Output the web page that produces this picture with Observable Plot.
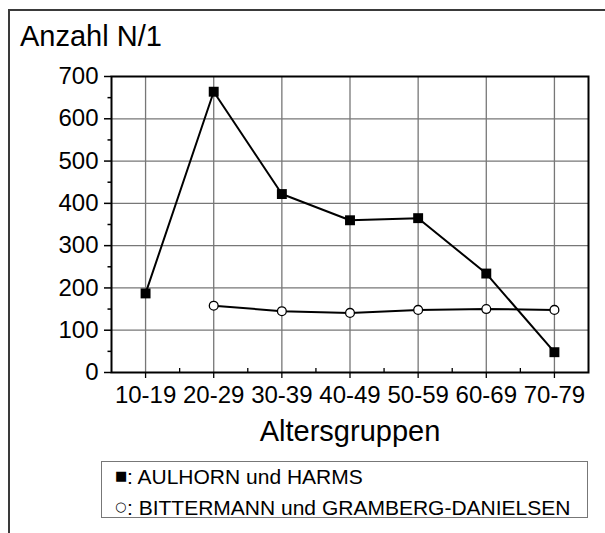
<!DOCTYPE html>
<html><head><meta charset="utf-8">
<script src="https://cdn.jsdelivr.net/npm/d3@7"></script>
<script src="https://cdn.jsdelivr.net/npm/@observablehq/plot@0.6"></script>
<style>
body{margin:0;background:#fff;font-family:"Liberation Sans",Arial,sans-serif;color:#000;}
#wrap{position:relative;width:605px;height:533px;overflow:hidden;}
#border{position:absolute;left:8px;top:9px;width:620px;height:560px;border-left:2px solid #3a3a3a;border-top:2px solid #3a3a3a;pointer-events:none;}
#title{box-sizing:border-box;height:55px;padding:22px 0 0 20px;font-size:29px;line-height:28px;white-space:nowrap;}
#chart svg{display:block;}
#legend{box-sizing:border-box;margin:6px 0 0 101px;width:487px;height:57px;border:1px solid #777;padding:1px 0 0 13px;font-size:21px;line-height:28px;white-space:nowrap;}
.sym{font-family:"DejaVu Sans",sans-serif;font-size:13px;display:inline-block;width:12px;position:relative;top:-4px;}
</style></head><body>
<div id="wrap">
  <div id="border"></div>
  <div id="title">Anzahl N/1</div>
  <div id="chart"></div>
  <div id="legend"></div>
</div>
<script>
const ageGroups = ["10-19", "20-29", "30-39", "40-49", "50-59", "60-69", "70-79"];
const aulhornValues = [187, 664, 422, 360, 365, 234, 48];
const bittermannValues = [null, 158, 145, 141, 148, 150, 148];
const yTicks = [0, 100, 200, 300, 400, 500, 600, 700];
const yMinorTicks = [50, 150, 250, 350, 450, 550, 650];
const seriesNames = ["AULHORN und HARMS", "BITTERMANN und GRAMBERG-DANIELSEN"];
const seriesSymbols = ["■", "○"];
const xAxisLabel = "Altersgruppen";

const xIdx = ageGroups.map((_, i) => i + 1);
const xMinor = xIdx.slice(0, -1).map(i => i + 0.5);
const aulhorn = ageGroups.map((g, i) => ({i: i + 1, v: aulhornValues[i]})).filter(d => d.v != null);
const bittermann = ageGroups.map((g, i) => ({i: i + 1, v: bittermannValues[i]})).filter(d => d.v != null);

const gridStyle = {stroke: "#777", strokeOpacity: 1, strokeWidth: 1.3};

const chart = Plot.plot({
  width: 605,
  height: 400,
  marginLeft: 111,
  marginRight: 17,
  marginTop: 21,
  marginBottom: 83,
  style: {fontFamily: "'Liberation Sans', Arial, sans-serif", color: "#000", background: "transparent"},
  x: {domain: [0.5, 7.5], axis: null},
  y: {domain: [0, 700], axis: null},
  marks: [
    Plot.gridY({ticks: yTicks.slice(1, -1), ...gridStyle}),
    Plot.gridX({ticks: xIdx, ...gridStyle}),
    Plot.frame({stroke: "#000", strokeWidth: 2}),
    Plot.axisY({ticks: yTicks, tickSize: 7, tickPadding: 6, fontSize: 24, label: null, strokeWidth: 1.5}),
    Plot.axisY({ticks: yMinorTicks, tickSize: 3.5, text: null, label: null, strokeWidth: 1.5}),
    Plot.axisX({ticks: xIdx, tickSize: 6, tickPadding: 7, fontSize: 24, label: null, strokeWidth: 1.3,
      tickFormat: d => ageGroups[d - 1]}),
    Plot.axisX({ticks: xMinor, tickSize: -4, text: null, label: null, strokeWidth: 1.3}),
    Plot.text([xAxisLabel], {text: d => d, frameAnchor: "bottom", dy: 68, lineAnchor: "bottom", fontSize: 29, fill: "#000"}),
    Plot.line(aulhorn, {x: "i", y: "v", stroke: "#000", strokeWidth: 2}),
    Plot.line(bittermann, {x: "i", y: "v", stroke: "#000", strokeWidth: 2}),
    Plot.dot(aulhorn, {x: "i", y: "v", symbol: "square", r: 5.6, fill: "#000"}),
    Plot.dot(bittermann, {x: "i", y: "v", symbol: "circle", r: 4.4, fill: "#fff", stroke: "#000", strokeWidth: 1.3})
  ]
});
document.getElementById("chart").appendChild(chart);

const legend = document.getElementById("legend");
seriesNames.forEach((name, k) => {
  const row = document.createElement("div");
  const s = document.createElement("span");
  s.className = "sym";
  s.textContent = seriesSymbols[k];
  row.appendChild(s);
  row.appendChild(document.createTextNode(": " + name));
  legend.appendChild(row);
});
</script>
</body></html>
